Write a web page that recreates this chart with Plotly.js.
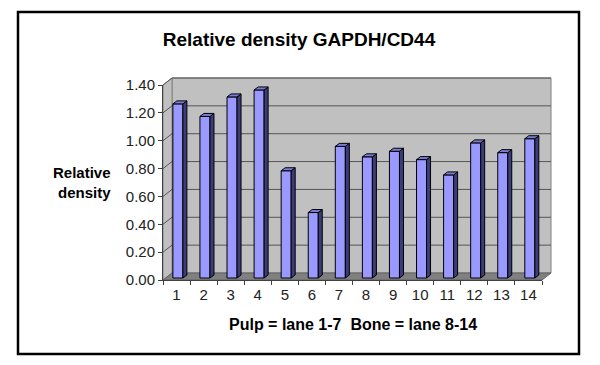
<!DOCTYPE html>
<html>
<head>
<meta charset="utf-8">
<script src="https://cdn.plot.ly/plotly-3.0.1.min.js"></script>
<style>html,body{margin:0;padding:0;background:#fff;}#chart{width:600px;height:365px;}</style>
</head>
<body>
<div id="chart"></div>
<script>
// ---- data ----
var lanes = [1,2,3,4,5,6,7,8,9,10,11,12,13,14];
var laneLabels = ["1","2","3","4","5","6","7","8","9","10","11","12","13","14"];
var density = [1.25,1.16,1.30,1.35,0.77,0.47,0.945,0.87,0.91,0.85,0.74,0.97,0.90,1.00];
var yTickVals = [0,0.2,0.4,0.6,0.8,1.0,1.2,1.4];
var yTickText = ["0.00","0.20","0.40","0.60","0.80","1.00","1.20","1.40"];
var chartTitle = "Relative density GAPDH/CD44";
var xTitle = "Pulp = lane 1-7  Bone = lane 8-14";
var yTitle = "Relative<br>density";

// ---- geometry (pixels of the plot frame) ----
var L = 163, R = 542, T = 85, B = 280;
var W = R - L, H = B - T;
var xMin = 0.5, xMax = 14.5, yMax = 1.4;
var pxPerX = W / (xMax - xMin), pxPerY = H / yMax;
function px(x){ return (x - L) / W; }
function py(y){ return (B - y) / H; }
var depthX = 9, depthY = 7;          // wall depth in px
var barW = 0.37, barShift = 0.05;    // in category units
var sideDx = 4 / pxPerX, sideDy = 3 / pxPerY;
var barBase = 2 / pxPerY;

var font = "Arial, 'Liberation Sans', sans-serif";

// ---- bar faces ----
var sideX = [], sideY = [], topX = [], topY = [];
lanes.forEach(function(x, i){
  var v = density[i];
  var xl = x + barShift - barW/2, xr = x + barShift + barW/2;
  var b = barBase, t = barBase + v;
  sideX.push(xr, xr + sideDx, xr + sideDx, xr, xr, null);
  sideY.push(b, b + sideDy, t + sideDy, t, b, null);
  topX.push(xl, xr, xr + sideDx, xl + sideDx, xl, null);
  topY.push(t, t, t + sideDy, t + sideDy, t, null);
});

var traces = [
  {type:'bar', x:lanes, y:density, base:barBase, width:barW, offset:barShift - barW/2,
   marker:{color:'#9999FF', line:{color:'#000000', width:1}}, hoverinfo:'x+y', showlegend:false},
  {type:'scatter', mode:'lines', x:sideX, y:sideY, fill:'toself', fillcolor:'#3c3c78',
   line:{color:'#000000', width:1}, hoverinfo:'skip', showlegend:false, cliponaxis:false},
  {type:'scatter', mode:'lines', x:topX, y:topY, fill:'toself', fillcolor:'#7c7cd8',
   line:{color:'#000000', width:1}, hoverinfo:'skip', showlegend:false, cliponaxis:false}
];

// ---- walls, floor, gridlines (decoration) ----
var shapes = [];
shapes.push({type:'rect', xref:'paper', yref:'paper', layer:'below',
  x0:px(L+depthX), x1:px(R+depthX), y0:py(B-depthY), y1:py(T-depthY),
  fillcolor:'#C0C0C0', line:{color:'#808080', width:1}});
shapes.push({type:'path', xref:'paper', yref:'paper', layer:'below',
  path:'M'+px(L)+','+py(B)+' L'+px(L)+','+py(T)+' L'+px(L+depthX)+','+py(T-depthY)+' L'+px(L+depthX)+','+py(B-depthY)+' Z',
  fillcolor:'#C0C0C0', line:{color:'#808080', width:1}});
shapes.push({type:'path', xref:'paper', yref:'paper', layer:'below',
  path:'M'+px(L)+','+py(B)+' L'+px(R)+','+py(B)+' L'+px(R+depthX)+','+py(B-depthY)+' L'+px(L+depthX)+','+py(B-depthY)+' Z',
  fillcolor:'#808080', line:{color:'#606060', width:1}});
yTickVals.forEach(function(v){
  if (v === 0) return;
  var yf = B - v * pxPerY;
  shapes.push({type:'line', xref:'paper', yref:'paper', layer:'below',
    x0:px(L+depthX), x1:px(R+depthX), y0:py(yf-depthY), y1:py(yf-depthY),
    line:{color:'#555555', width:1}});
  shapes.push({type:'line', xref:'paper', yref:'paper', layer:'below',
    x0:px(L), x1:px(L+depthX), y0:py(yf), y1:py(yf-depthY),
    line:{color:'#555555', width:1}});
});
shapes.push({type:'rect', xref:'paper', yref:'paper', layer:'above',
  x0:px(18), x1:px(579), y0:py(12), y1:py(354),
  line:{color:'#000000', width:2.5}, fillcolor:'rgba(0,0,0,0)'});

var layout = {
  width:600, height:365,
  margin:{l:L, r:600-R, t:T, b:365-B, pad:0},
  paper_bgcolor:'#ffffff', plot_bgcolor:'rgba(0,0,0,0)',
  font:{family:font, color:'#000'},
  title:{text:'<b>'+chartTitle+'</b>', x:299/600, xref:'container', xanchor:'center',
         y:1-39/365, yref:'container', yanchor:'middle', font:{size:19, family:font, color:'#000'}},
  xaxis:{range:[xMin,xMax], tickvals:lanes, ticktext:laneLabels, ticks:'outside', ticklen:1,
         tickcolor:'rgba(0,0,0,0)', showgrid:false, zeroline:false, showline:true, linecolor:'#404040',
         linewidth:1, tickfont:{size:15, color:'#222'}, fixedrange:true, automargin:false,
         minor:{tick0:0.5, dtick:1, ticks:'outside', ticklen:4, tickcolor:'#404040', showgrid:false}},
  yaxis:{range:[0,yMax], tickvals:yTickVals, ticktext:yTickText, ticks:'outside', ticklen:4,
         tickcolor:'#404040', showgrid:false, zeroline:false, showline:true, linecolor:'#404040',
         linewidth:1, tickfont:{size:15, color:'#222'}, fixedrange:true, automargin:false},
  shapes:shapes,
  annotations:[
    {text:'<b>'+xTitle+'</b>', xref:'paper', yref:'paper', x:px(352.5), y:py(324),
     xanchor:'center', yanchor:'middle', showarrow:false, font:{size:16, family:font, color:'#000'}},
    {text:'<b>'+yTitle+'</b>', xref:'paper', yref:'paper', x:px(113), y:py(182),
     xanchor:'right', yanchor:'middle', align:'right', showarrow:false,
     font:{size:15, family:font, color:'#000'}}
  ],
  bargap:0, showlegend:false
};

Plotly.newPlot('chart', traces, layout, {displayModeBar:false, staticPlot:true});
</script>
</body>
</html>
